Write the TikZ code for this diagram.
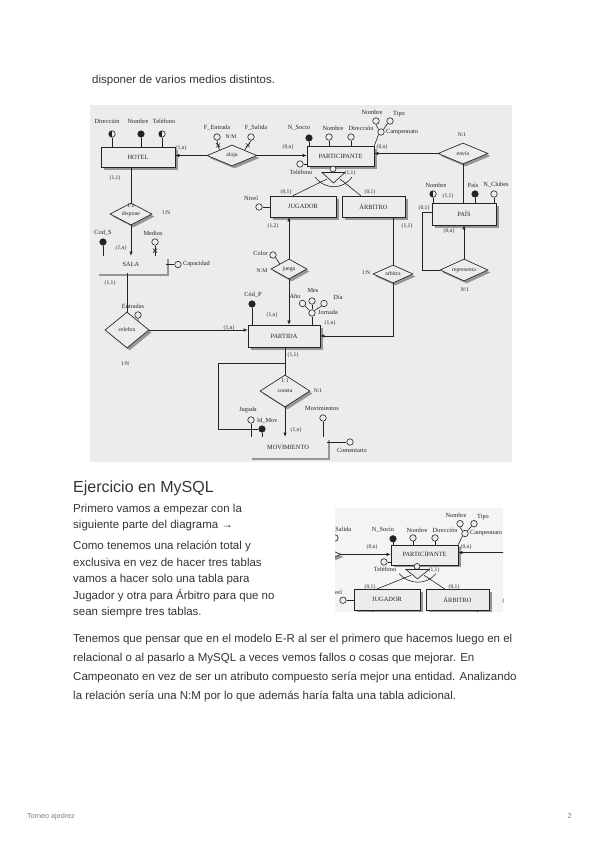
\documentclass[tikz,border=0pt]{standalone}
\usepackage{fontspec}
\setmainfont{Liberation Sans}
\newfontfamily\scanfont{Liberation Serif}
\usetikzlibrary{shapes.geometric,arrows.meta,shadows,calc}
\definecolor{paper}{RGB}{236,236,236}
\definecolor{paperlight}{RGB}{244,244,244}
\definecolor{ink}{RGB}{35,35,35}
\definecolor{shade}{RGB}{150,150,150}
\definecolor{bodytext}{RGB}{55,53,47}
\tikzset{
  lbl/.style={font=\scanfont\fontsize{6.3}{6.5}\selectfont, inner sep=0pt, text=ink},
  card/.style={font=\scanfont\fontsize{5.6}{6}\selectfont, inner sep=0pt, text=ink},
  shadowed/.style={drop shadow={shadow xshift=2.5pt, shadow yshift=-2.5pt, fill=shade, opacity=1}},
  ent/.style={shadowed, draw=ink, line width=0.65pt, fill=paper, font=\scanfont\fontsize{6.4}{7}\selectfont, text=ink, inner sep=0pt},
  weak/.style={ent, double=paper, double distance=1.2pt, line width=0.55pt},
  rel/.style={shadowed, diamond, aspect=2.4, draw=ink, line width=0.65pt, fill=paper, inner sep=0pt, font=\scanfont\fontsize{5.8}{6}\selectfont, text=ink},
  att/.style={circle, draw=ink, line width=0.6pt, fill=paper, inner sep=0pt, minimum size=6.5pt},
  idatt/.style={att, fill=ink},
  halfatt/.style={att, path picture={\fill[ink] (path picture bounding box.north west) rectangle (path picture bounding box.south);}},
  conn/.style={draw=ink, line width=0.6pt},
  arr/.style={conn, -{Latex[length=4pt,width=3.4pt]}},
  pagetext/.style={font=\fontsize{11.5}{14}\selectfont, text=bodytext, inner sep=0pt, anchor=base west},
}
\newcommand\erdiagram{%
  % entities
  \node[ent, minimum width=74pt, minimum height=20pt] (hotel) at (138,157) {HOTEL};
  \node[ent, minimum width=67pt, minimum height=20pt] (part) at (340.5,156) {PARTICIPANTE};
  \node[ent, minimum width=66pt, minimum height=21pt] (jug) at (303,206.5) {JUGADOR};
  \node[ent, minimum width=63pt, minimum height=21pt] (arb) at (373.5,206.5) {ÁRBITRO};
  \node[ent, minimum width=64pt, minimum height=22pt] (pais) at (464,214) {PAÍS};
  \node[weak, minimum width=70pt, minimum height=17pt] (sala) at (131,264.5) {SALA};
  \node[ent, minimum width=72pt, minimum height=22pt] (partida) at (284,336) {PARTIDA};
  \node[weak, minimum width=78pt, minimum height=20pt] (mov) at (288,447) {MOVIMIENTO};
  % relationships
  \node[rel, minimum width=50pt, minimum height=21pt] (aloja) at (232,155.5) {aloja};
  \node[rel, minimum width=50pt, minimum height=21pt] (envia) at (463,153.5) {envía};
  \node[rel, minimum width=42pt, minimum height=22pt] (dispone) at (131,214) {dispone};
  \node[rel, minimum width=36pt, minimum height=20pt] (juega) at (289,269) {juega};
  \node[rel, minimum width=40pt, minimum height=18pt] (arbitra) at (393,274) {arbitra};
  \node[rel, minimum width=48pt, minimum height=22pt] (repr) at (464,270) {representa};
  \node[rel, minimum width=44pt, minimum height=36pt] (celebra) at (127,330) {celebra};
  \node[rel, minimum width=50pt, minimum height=32pt] (consta) at (285,391) {consta};
  \node[card] (dispc) at (131,206) {1:n};
  \node[card] (constc) at (285,381) {1:1};
  % connectors between entities and relationships
  \draw[arr] (aloja.west) -- (aloja.west -| hotel.east);
  \draw[arr] (aloja.east) -- (aloja.east -| part.west);
  \draw[arr] (envia.west) -- (envia.west -| part.east);
  \draw[conn] (envia.south) -- (envia.south |- pais.north);
  \draw[conn] (dispone.north |- hotel.south) -- (dispone.north);
  \draw[arr] (dispone.south) -- (dispone.south |- sala.north);
  \draw[conn] (celebra.north |- sala.south) -- (celebra.north);
  \draw[arr] (celebra.east) -- (celebra.east -| partida.west);
  \draw[arr] (juega.north) -- (juega.north |- jug.south);
  \draw[arr] (juega.south) -- (juega.south |- partida.north);
  \draw[conn] (arbitra.north |- arb.south) -- (arbitra.north);
  \draw[arr] (arbitra.south) |- (partida.east);
  \draw[conn] (consta.north |- partida.south) -- (consta.north);
  \draw[arr] (consta.south) -- (consta.south |- mov.north);
  \draw[arr] (repr.north) -- (repr.north |- pais.south);
  \coordinate (rloop) at (422,212);
  \draw[conn] (repr.west) -| (rloop) -- (rloop -| pais.west);
  % ISA
  \node[att, minimum size=6pt] (isac) at (333,169) {};
  \coordinate (isaL) at (327,179);
  \coordinate (isaR) at (340,179);
  \draw[conn] (isaL) -- ($(jug.north west)!0.35!(jug.north east)$);
  \draw[conn] (isaR) -- ($(arb.north west)!0.3!(arb.north east)$);
  \draw[conn, fill=paper] (322,172.5) -- (345,172.5) -- (333.5,183) -- cycle;
  \draw[conn] (315,177) .. controls (325,190) and (343,190) .. (352,177);
  % HOTEL attributes
  \node[halfatt] (hdir) at (112,134) {};
  \node[lbl] (hdirl) at (107,121) {Dirección};
  \draw[conn] (hdir.south) -- (hdir.south |- hotel.north);
  \node[idatt] (hnom) at (141,134) {};
  \node[lbl] (hnoml) at (138,121) {Nombre};
  \draw[conn] (hnom.south) -- (hnom.south |- hotel.north);
  \node[halfatt] (htel) at (162,134) {};
  \node[lbl] (htell) at (164,121) {Teléfono};
  \draw[conn] (htel.south) -- (htel.south |- hotel.north);
  % aloja attributes
  \node[att] (fent) at (217,137) {};
  \node[lbl] (fentl) at (217,128) {F\_Entrada};
  \draw[conn] (fent.south) -- (aloja.north west);
  \draw[conn] ($(fent.south)!.5!(aloja.north west)$) +(-2,-2) -- +(2,2) +(-2,2) -- +(2,-2);
  \node[att] (fsal) at (251,137) {};
  \node[lbl] (fsall) at (256,128) {F\_Salida};
  \draw[conn] (fsal.south) -- (aloja.north east);
  \draw[conn] ($(fsal.south)!.5!(aloja.north east)$) +(-2,-2) -- +(2,2) +(-2,2) -- +(2,-2);
  \node[card] (alojac) at (231,137) {N:M};
  % PARTICIPANTE attributes
  \node[idatt] (nsoc) at (309,138) {};
  \node[lbl] (nsocl) at (299,128) {N\_Socio};
  \draw[conn] (nsoc.south) -- (nsoc.south |- part.north);
  \node[att] (pnom) at (329,137) {};
  \node[lbl] (pnoml) at (333,128) {Nombre};
  \draw[conn] (pnom.south) -- (pnom.south |- part.north);
  \node[att] (pdir) at (351,137) {};
  \node[lbl] (pdirl) at (361,128) {Dirección};
  \draw[conn] (pdir.south) -- (pdir.south |- part.north);
  \node[att] (camp) at (381,132) {};
  \node[lbl, anchor=west] (campl) at (386,132) {Campeonato};
  \draw[conn] (camp.south west) -- (part.north east);
  \node[att] (cnom) at (376,121) {};
  \node[lbl] (cnoml) at (372,112) {Nombre};
  \draw[conn] (cnom.south) -- (camp.north west);
  \node[att] (ctip) at (390,121) {};
  \node[lbl] (ctipl) at (399,114) {Tipo};
  \draw[conn] (ctip.south west) -- (camp.north east);
  \node[att] (ptel) at (300,164) {};
  \node[lbl] (ptell) at (301,172.5) {Teléfono};
  \draw[conn] (ptel.east) -- (ptel.east -| part.west);
  % JUGADOR
  \node[att] (niv) at (259,207) {};
  \node[lbl] (nivl) at (251,198) {Nivel};
  \draw[conn] (niv.east) -- (niv.east -| jug.west);
  % PAIS
  \node[halfatt] (panom) at (433,194) {};
  \node[lbl] (panoml) at (436,185) {Nombre};
  \draw[conn] (panom.south) -- (panom.south |- pais.north);
  \node[idatt] (papais) at (475,194) {};
  \node[lbl] (papaisl) at (473,185) {País};
  \draw[conn] (papais.south) -- (papais.south |- pais.north);
  \node[att] (pancl) at (494,194) {};
  \node[lbl] (pancll) at (496,185) {N\_Clubes};
  \draw[conn] (pancl.south) -- (pancl.south |- pais.north);
  % juega
  \node[att] (color) at (273,255) {};
  \node[lbl, anchor=east] (colorl) at (268,253) {Color};
  \draw[conn] (color.south east) -- (juega.north west);
  % SALA
  \node[idatt] (cods) at (103,242) {};
  \node[lbl] (codsl) at (103,233) {Cod\_S};
  \draw[conn] (cods.south) -- (cods.south |- sala.north);
  \node[att] (medios) at (155,242) {};
  \node[lbl] (mediosl) at (153,233) {Medios};
  \draw[conn] (medios.south) -- (medios.south |- sala.north);
  \draw[conn] ($(medios.south)!.5!(medios.south |- sala.north)$) +(-2,-2) -- +(2,2) +(-2,2) -- +(2,-2);
  \node[att] (capac) at (178,264.5) {};
  \node[lbl, anchor=west] (capacl) at (183,264) {Capacidad};
  \draw[conn] (sala.east) -- (capac.west);
  % celebra
  \node[att] (entr) at (138,315) {};
  \node[lbl] (entrl) at (133,306.5) {Entradas};
  \draw[conn] (entr.south) -- ($(celebra.north)!0.5!(celebra.east)$);
  % PARTIDA
  \node[idatt] (codp) at (252,304) {};
  \node[lbl] (codpl) at (253,295) {Cód\_P};
  \draw[conn] (codp.south) -- (codp.south |- partida.north);
  \node[att] (jorn) at (312,313) {};
  \node[lbl, anchor=west] (jornl) at (318,312.5) {Jornada};
  \draw[conn] (jorn.south) -- (jorn.south |- partida.north);
  \node[att] (anio) at (302.5,303.5) {};
  \node[lbl] (aniol) at (295,296) {Año};
  \draw[conn] (anio.south east) -- (jorn.north west);
  \node[att] (mes) at (312,301) {};
  \node[lbl] (mesl) at (313,290.5) {Mes};
  \draw[conn] (mes.south) -- (jorn.north);
  \node[att] (dia) at (324,303.5) {};
  \node[lbl] (dial) at (338,297) {Día};
  \draw[conn] (dia.south west) -- (jorn.north east);
  % MOVIMIENTO
  \node[att] (jugada) at (251,420) {};
  \node[lbl] (jugadal) at (248,410) {Jugada};
  \draw[conn] (jugada.south) -- (jugada.south |- mov.north);
  \node[idatt] (idmov) at (262,429) {};
  \node[lbl, anchor=west] (idmovl) at (257,421) {Id\_Mov};
  \draw[conn] (idmov.south) -- (idmov.south |- mov.north);
  \coordinate (wk) at (218,363);
  \draw[conn] (consta.north |- wk) -- (wk) |- (idmov.west);
  \node[att] (movs) at (323,418) {};
  \node[lbl] (movsl) at (322,408) {Movimientos};
  \draw[conn] (movs.south) -- (movs.south |- mov.north);
  \node[att] (coment) at (350,442) {};
  \node[lbl] (comentl) at (352,450.5) {Comentario};
  \draw[conn] (coment.west) -- (coment.west -| mov.east);
  % cardinalities
  \node[card] (c1) at (181,148) {(1,n)};
  \node[card] (c2) at (115,178) {(1,1)};
  \node[card] (c3) at (288,147) {(0,n)};
  \node[card] (c4) at (382,147.5) {(0,n)};
  \node[card] (c5) at (462,135) {N:1};
  \node[card] (c6) at (350,173) {(1,1)};
  \node[card] (c7) at (286,192) {(0,1)};
  \node[card] (c8) at (370,192) {(0,1)};
  \node[card] (c9) at (448,196) {(1,1)};
  \node[card] (c10) at (424,208) {(0,1)};
  \node[card] (c11) at (449,231) {(0,n)};
  \node[card] (c12) at (273,226) {(1,2)};
  \node[card] (c13) at (407,226) {(1,1)};
  \node[card] (c14) at (262,271) {N:M};
  \node[card] (c15) at (366,273) {1:N};
  \node[card] (c16) at (465,290) {N:1};
  \node[card] (c17) at (166,213) {1:N};
  \node[card, font=\scanfont\itshape\fontsize{5.6}{6}\selectfont] (c18) at (121,248) {(1,n)};
  \node[card] (c19) at (110,283) {(1,1)};
  \node[card] (c20) at (125,364) {1:N};
  \node[card] (c21) at (272,315) {(1,n)};
  \node[card] (c22) at (330,323) {(1,n)};
  \node[card] (c23) at (229,328) {(1,n)};
  \node[card] (c24) at (293,355) {(1,1)};
  \node[card] (c25) at (318,391) {N:1};
  \node[card] (c26) at (296,430) {(1,n)};
}
\begin{document}
\begin{tikzpicture}[x=1pt,y=-1pt]
  \useasboundingbox (0,0) rectangle (600,848);
  \fill[white] (0,0) rectangle (600,848);
  \node[pagetext] (t0) at (92,84) {disponer de varios medios distintos.};
  % main scanned diagram
  \fill[paper] (90,105) rectangle (512,462);
  \erdiagram
  % heading and text
  \node[pagetext, font=\fontsize{16}{18}\selectfont] (h1) at (73,492.5) {Ejercicio en MySQL};
  \node[pagetext] (l1) at (73,512) {Primero vamos a empezar con la};
  \node[pagetext] (l2) at (73,528.5) {siguiente parte del diagrama →};
  \node[pagetext] (l3) at (73,549.5) {Como tenemos una relación total y};
  \node[pagetext] (l4) at (73,566) {exclusiva en vez de hacer tres tablas};
  \node[pagetext] (l5) at (73,582.5) {vamos a hacer solo una tabla para};
  \node[pagetext] (l6) at (73,599) {Jugador y otra para Árbitro para que no};
  \node[pagetext] (l7) at (73,615.5) {sean siempre tres tablas.};
  % small copy of diagram part
  \fill[paperlight] (335,508) rectangle (503,612);
  \begin{scope}[shift={(84,416)}, yscale=0.89]
    \clip (251,103) rectangle (419,220);
    \erdiagram
  \end{scope}
  % bottom paragraph
  \node[pagetext] (b1) at (73,642) {Tenemos que pensar que en el modelo E-R al ser el primero que hacemos luego en el};
  \node[pagetext] (b2) at (73,661) {relacional o al pasarlo a MySQL a veces vemos fallos o cosas que mejorar. En};
  \node[pagetext] (b3) at (73,680) {Campeonato en vez de ser un atributo compuesto sería mejor una entidad. Analizando};
  \node[pagetext] (b4) at (73,699) {la relación sería una N:M por lo que además haría falta una tabla adicional.};
  % footer
  \node[font=\fontsize{7.2}{8}\selectfont, text=gray, inner sep=0pt, anchor=base west] (f1) at (27,818) {Torneo ajedrez};
  \node[font=\fontsize{7.2}{8}\selectfont, text=gray, inner sep=0pt, anchor=base east] (f2) at (572,818) {2};
\end{tikzpicture}
\end{document}
